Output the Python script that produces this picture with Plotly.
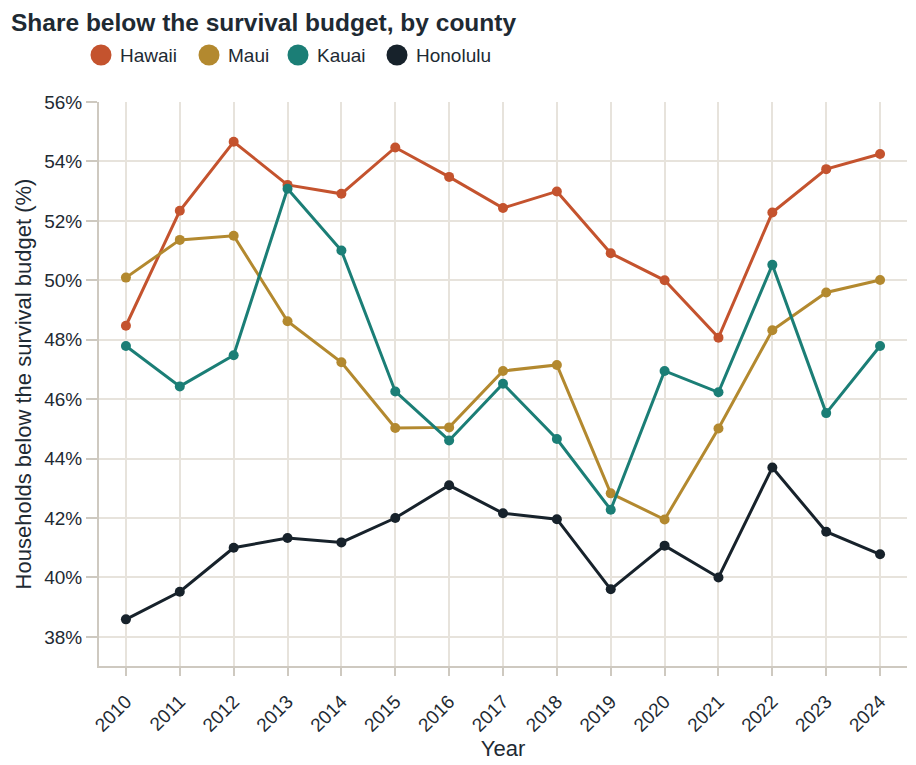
import plotly.graph_objects as go

years = list(range(2010, 2025))
series_names = ["Hawaii", "Maui", "Kauai", "Honolulu"]
hawaii = [48.47, 52.34, 54.66, 53.21, 52.91, 54.47, 53.48, 52.43, 52.99, 50.91, 50.00, 48.07, 52.28, 53.74, 54.25]
maui = [50.09, 51.36, 51.50, 48.62, 47.24, 45.03, 45.05, 46.95, 47.15, 42.83, 41.95, 45.01, 48.32, 49.59, 50.01]
kauai = [47.79, 46.43, 47.48, 53.08, 51.00, 46.26, 44.61, 46.52, 44.66, 42.28, 46.95, 46.23, 50.52, 45.53, 47.79]
honolulu = [38.59, 39.52, 41.00, 41.33, 41.18, 42.00, 43.10, 42.16, 41.96, 39.60, 41.07, 40.00, 43.70, 41.54, 40.78]
colors = ["#C4532E", "#B3892F", "#1B7E76", "#17222B"]
y_ticks = [38, 40, 42, 44, 46, 48, 50, 52, 54, 56]

W, H = 916, 765
L, R, T, B = 99, 9, 102, 99
pw, ph = W - L - R, H - T - B
FONT = "Liberation Sans, Arial, sans-serif"
TXT = "#1E2A33"

fig = go.Figure()
for name, vals, col in zip(series_names, [hawaii, maui, kauai, honolulu], colors):
    fig.add_trace(go.Scatter(
        x=years, y=vals, name=name, mode="lines+markers",
        line=dict(color=col, width=3),
        marker=dict(color=col, size=10),
        showlegend=False,
    ))

# custom legend (layout elements in paper coordinates)
leg_cx = [101, 209, 298, 397]
leg_cy = 55
r = 10.5
shapes = []
annotations = []
for name, col, cx in zip(series_names, colors, leg_cx):
    shapes.append(dict(
        type="circle", xref="paper", yref="paper",
        x0=(cx - r - L) / pw, x1=(cx + r - L) / pw,
        y0=(H - B - leg_cy - r) / ph, y1=(H - B - leg_cy + r) / ph,
        fillcolor=col, line=dict(width=0),
    ))
    annotations.append(dict(
        text=name, xref="paper", yref="paper",
        x=(cx + 17 - L) / pw, y=(H - B - leg_cy) / ph,
        xanchor="left", yanchor="middle", showarrow=False,
        font=dict(family=FONT, size=19, color=TXT),
    ))

fig.update_layout(
    width=W, height=H, autosize=False,
    margin=dict(l=L, r=R, t=T, b=B),
    paper_bgcolor="white", plot_bgcolor="white",
    font=dict(family=FONT, color=TXT, size=19),
    title=dict(
        text="Share below the survival budget, by county",
        xref="container", yref="container",
        x=11 / W, y=1 - 22 / H, xanchor="left", yanchor="middle",
        font=dict(family=FONT, size=24.5, color=TXT, weight="bold"),
    ),
    shapes=shapes,
    annotations=annotations,
    xaxis=dict(
        range=[2009.5, 2024.5],
        tickmode="array", tickvals=years, ticktext=[str(y) for y in years],
        tickangle=-45, automargin=False,
        showgrid=True, gridcolor="#E7E3DC", gridwidth=2,
        showline=True, linecolor="#CEC9C0", linewidth=2,
        ticks="outside", ticklen=8, tickwidth=2, tickcolor="#CEC9C0",
        ticklabelstandoff=7,
        tickfont=dict(size=19, color=TXT),
        title=dict(text="Year", font=dict(size=22, color=TXT), standoff=1),
        zeroline=False,
    ),
    yaxis=dict(
        range=[37.02, 56.0], automargin=False,
        tickmode="array", tickvals=y_ticks, ticktext=[f"{v}%" for v in y_ticks],
        showgrid=True, gridcolor="#E7E3DC", gridwidth=2,
        showline=True, linecolor="#CEC9C0", linewidth=2,
        ticks="outside", ticklen=11, tickwidth=2, tickcolor="#CEC9C0",
        tickfont=dict(size=19, color=TXT),
        title=dict(text="Households below the survival budget (%)", font=dict(size=22, color=TXT), standoff=6),
        zeroline=False,
    ),
)

fig.write_html("out.html")
